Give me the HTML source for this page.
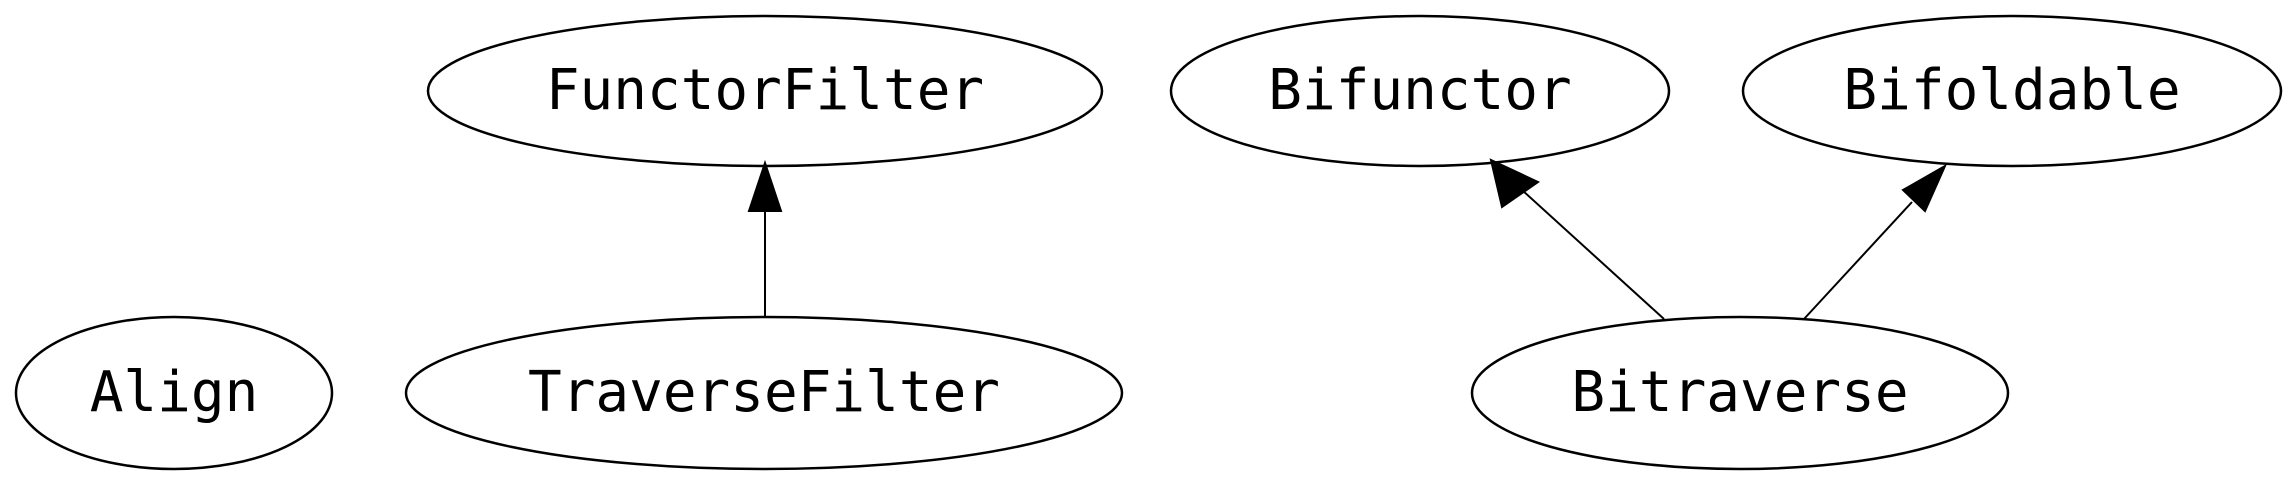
<!DOCTYPE html>
<html><head><meta charset="utf-8"><style>
html,body{margin:0;padding:0;background:#fff;}
svg{display:block;}
text{font-family:"DejaVu Sans Mono","Liberation Mono",monospace;font-size:56px;fill:#000;}
</style></head><body>
<svg width="2292" height="483" viewBox="0 0 2292 483" xmlns="http://www.w3.org/2000/svg">
<g fill="none" stroke="#000" stroke-width="2.5">
<ellipse cx="765" cy="91" rx="337" ry="75"/>
<ellipse cx="174" cy="393" rx="158" ry="76"/>
<ellipse cx="764" cy="393" rx="358" ry="76"/>
<ellipse cx="1420" cy="91" rx="249" ry="75"/>
<ellipse cx="2012" cy="91" rx="269" ry="75"/>
<ellipse cx="1740" cy="393" rx="268" ry="76"/>
<line x1="765" y1="317" x2="765" y2="205" stroke-width="2"/>
<line x1="1664" y1="319" x2="1522" y2="190" stroke-width="2"/>
<line x1="1804" y1="319" x2="1912" y2="202" stroke-width="2"/>
</g>
<g fill="#000" stroke="#000" stroke-width="2">
<polygon points="765,163 749,211 781,211"/>
<polygon points="1491,160 1502,207 1538,182"/>
<polygon points="1945,166 1903,190 1925,211"/>
</g>
<g text-anchor="middle">
<text x="765" y="109">FunctorFilter</text>
<text x="174" y="411">Align</text>
<text x="764" y="411">TraverseFilter</text>
<text x="1420" y="109">Bifunctor</text>
<text x="2012" y="109">Bifoldable</text>
<text x="1740" y="411">Bitraverse</text>
</g>
</svg>
</body></html>
